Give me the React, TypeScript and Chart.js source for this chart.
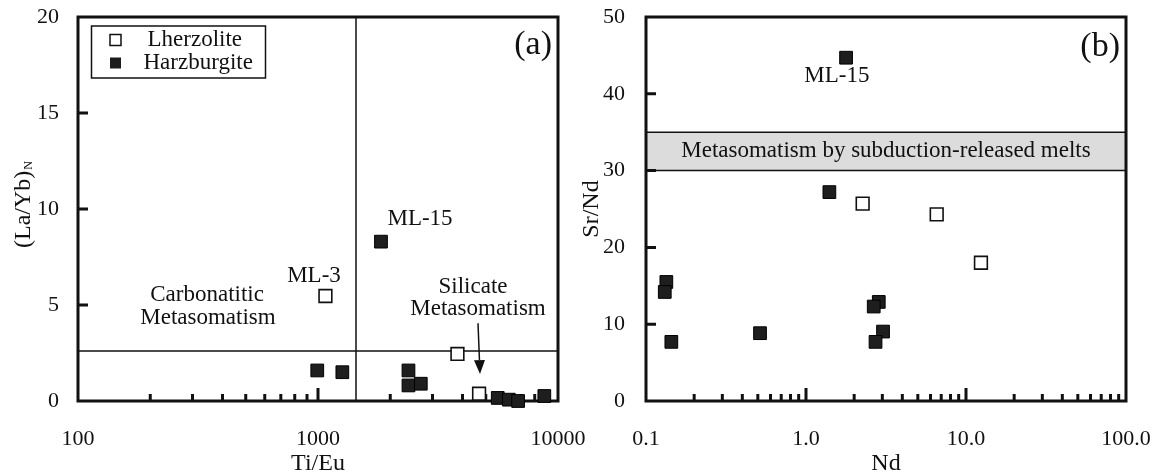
import React, { useEffect, useRef } from 'react';
import { Chart, registerables } from 'chart.js';

Chart.register(...registerables);

const FONT = "'Liberation Serif', 'DejaVu Serif', serif";
const INK = '#111111';

// ---------- Panel (a) data ----------
const lherzoliteTiEu = [1074, 3811, 4690];
const lherzoliteLaYb = [5.47, 2.45, 0.38];
const harzburgiteTiEu = [1830, 993, 1263, 2382, 2382, 2681, 5610, 6240, 6820, 8770];
const harzburgiteLaYb = [8.3, 1.59, 1.5, 1.59, 0.81, 0.9, 0.16, 0.07, 0.0, 0.26];
const ticksTiEu = [100, 1000, 10000];
const tickLabelsTiEu = ['100', '1000', '10000'];
const ticksLaYb = [0, 5, 10, 15, 20];
const dividerTiEu = 1440;
const dividerLaYb = 2.6;

// ---------- Panel (b) data ----------
const lherzoliteNd = [2.26, 6.56, 12.4];
const lherzoliteSrNd = [25.7, 24.3, 18.0];
const harzburgiteNd = [1.78, 1.4, 0.134, 0.131, 0.144, 0.516, 2.85, 2.65, 3.03, 2.72];
const harzburgiteSrNd = [44.7, 27.2, 15.5, 14.2, 7.7, 8.83, 12.9, 12.3, 9.04, 7.7];
const ticksNd = [0.1, 1, 10, 100];
const tickLabelsNd = ['0.1', '1.0', '10.0', '100.0'];
const ticksSrNd = [0, 10, 20, 30, 40, 50];
const bandSrNd = [30, 35];

// annotation positions (data coordinates)
const annotationsA = [
  { text: 'ML-15', x: 2661, y: 9.48 },
  { text: 'ML-3', x: 962, y: 6.5 },
  { text: 'Carbonatitic', x: 345, y: 5.5 },
  { text: 'Metasomatism', x: 348, y: 4.35 },
  { text: 'Silicate', x: 4425, y: 5.92 },
  { text: 'Metasomatism', x: 4642, y: 4.78 },
];
const arrowA = { x1: 4642, y1: 4.05, x2: 4732, y2: 1.4 };
const annotationsB = [{ text: 'ML-15', x: 1.56, y: 42.3 }];
const bandLabel = { text: 'Metasomatism by subduction-released melts', x: 3.16, y: 32.5 };

function pts(xs: number[], ys: number[]) {
  return xs.map((x, i) => ({ x, y: ys[i] }));
}

function text(ctx: any, s: string, x: number, y: number, size: number, align = 'center', baseline = 'middle') {
  ctx.save();
  ctx.fillStyle = INK;
  ctx.font = `${size}px ${FONT}`;
  ctx.textAlign = align;
  ctx.textBaseline = baseline;
  ctx.fillText(s, x, y);
  ctx.restore();
}

function drawFrameAndTicks(ctx: any, chart: any, yTickValues: number[]) {
  const a = chart.chartArea;
  const xs = chart.scales.x;
  const ys = chart.scales.y;
  ctx.save();
  ctx.strokeStyle = INK;
  ctx.lineWidth = 3;
  ctx.strokeRect(a.left, a.top, a.right - a.left, a.bottom - a.top);
  ctx.beginPath();
  const emin = Math.floor(Math.log10(xs.min) + 1e-9);
  const emax = Math.ceil(Math.log10(xs.max) - 1e-9);
  for (let e = emin; e < emax; e++) {
    for (let m = 1; m <= 9; m++) {
      const v = m * Math.pow(10, e);
      if (v <= xs.min * 1.0001 || v >= xs.max * 0.9999) continue;
      const px = xs.getPixelForValue(v);
      const len = m === 1 ? 13 : 7;
      ctx.moveTo(px, a.bottom);
      ctx.lineTo(px, a.bottom - len);
    }
  }
  yTickValues.forEach((v) => {
    if (v <= ys.min || v >= ys.max) return;
    const py = ys.getPixelForValue(v);
    ctx.moveTo(a.left, py);
    ctx.lineTo(a.left + 10, py);
  });
  ctx.lineWidth = 3;
  ctx.stroke();
  ctx.restore();
}

const decorA = {
  id: 'decorA',
  beforeDatasetsDraw(chart: any) {
    const ctx = chart.ctx;
    const a = chart.chartArea;
    const xs = chart.scales.x;
    const ys = chart.scales.y;
    ctx.save();
    ctx.strokeStyle = INK;
    ctx.lineWidth = 1.5;
    ctx.beginPath();
    const vx = xs.getPixelForValue(dividerTiEu);
    ctx.moveTo(vx, a.top);
    ctx.lineTo(vx, a.bottom);
    const hy = ys.getPixelForValue(dividerLaYb);
    ctx.moveTo(a.left, hy);
    ctx.lineTo(a.right, hy);
    ctx.stroke();
    ctx.restore();
    drawFrameAndTicks(ctx, chart, ticksLaYb);
  },
  afterDraw(chart: any) {
    const ctx = chart.ctx;
    const a = chart.chartArea;
    const xs = chart.scales.x;
    const ys = chart.scales.y;
    annotationsA.forEach((t) => text(ctx, t.text, xs.getPixelForValue(t.x), ys.getPixelForValue(t.y), 23));
    // arrow
    const x1 = xs.getPixelForValue(arrowA.x1), y1 = ys.getPixelForValue(arrowA.y1);
    const x2 = xs.getPixelForValue(arrowA.x2), y2 = ys.getPixelForValue(arrowA.y2);
    const ang = Math.atan2(y2 - y1, x2 - x1);
    const hl = 14, hw = 5.5;
    const bx = x2 - hl * Math.cos(ang), by = y2 - hl * Math.sin(ang);
    ctx.save();
    ctx.strokeStyle = INK;
    ctx.fillStyle = INK;
    ctx.lineWidth = 1.5;
    ctx.beginPath();
    ctx.moveTo(x1, y1);
    ctx.lineTo(bx, by);
    ctx.stroke();
    ctx.beginPath();
    ctx.moveTo(x2, y2);
    ctx.lineTo(bx + hw * Math.sin(ang), by - hw * Math.cos(ang));
    ctx.lineTo(bx - hw * Math.sin(ang), by + hw * Math.cos(ang));
    ctx.closePath();
    ctx.fill();
    ctx.restore();
    // legend
    ctx.save();
    ctx.strokeStyle = INK;
    ctx.lineWidth = 1.5;
    ctx.strokeRect(91.5, 26, 174, 52);
    ctx.fillStyle = '#ffffff';
    ctx.fillRect(110, 34.5, 11, 11);
    ctx.lineWidth = 1.5;
    ctx.strokeRect(110, 34.5, 11, 11);
    ctx.fillStyle = '#1c1c1c';
    ctx.fillRect(110, 57.5, 11, 11);
    ctx.restore();
    text(ctx, 'Lherzolite', 147.5, 40, 23, 'left');
    text(ctx, 'Harzburgite', 143.5, 63, 23, 'left');
    // panel letter
    text(ctx, '(a)', a.right - 6, a.top + 28, 34, 'right');
    // y title with subscript
    ctx.save();
    ctx.translate(30, 248);
    ctx.rotate(-Math.PI / 2);
    ctx.fillStyle = INK;
    ctx.font = `24px ${FONT}`;
    ctx.textAlign = 'left';
    ctx.textBaseline = 'alphabetic';
    ctx.fillText('(La/Yb)', 0, 0);
    const w = ctx.measureText('(La/Yb)').width;
    ctx.font = `12px ${FONT}`;
    ctx.fillText('N', w + 1, 2);
    ctx.restore();
  },
};

const decorB = {
  id: 'decorB',
  beforeDatasetsDraw(chart: any) {
    const ctx = chart.ctx;
    const a = chart.chartArea;
    const ys = chart.scales.y;
    const yTop = ys.getPixelForValue(bandSrNd[1]);
    const yBot = ys.getPixelForValue(bandSrNd[0]);
    ctx.save();
    ctx.fillStyle = '#dcdcdc';
    ctx.fillRect(a.left, yTop, a.right - a.left, yBot - yTop);
    ctx.strokeStyle = INK;
    ctx.lineWidth = 1.5;
    ctx.beginPath();
    ctx.moveTo(a.left, yTop);
    ctx.lineTo(a.right, yTop);
    ctx.moveTo(a.left, yBot);
    ctx.lineTo(a.right, yBot);
    ctx.stroke();
    ctx.restore();
    drawFrameAndTicks(ctx, chart, ticksSrNd);
  },
  afterDraw(chart: any) {
    const ctx = chart.ctx;
    const a = chart.chartArea;
    const xs = chart.scales.x;
    const ys = chart.scales.y;
    annotationsB.forEach((t) => text(ctx, t.text, xs.getPixelForValue(t.x), ys.getPixelForValue(t.y), 23));
    text(ctx, bandLabel.text, xs.getPixelForValue(bandLabel.x), ys.getPixelForValue(bandLabel.y), 23);
    text(ctx, '(b)', a.right - 6, a.top + 30, 34, 'right');
    ctx.save();
    ctx.translate(18, (a.top + a.bottom) / 2);
    ctx.rotate(-Math.PI / 2);
    ctx.fillStyle = INK;
    ctx.font = `24px ${FONT}`;
    ctx.textAlign = 'center';
    ctx.textBaseline = 'alphabetic';
    ctx.fillText('Sr/Nd', 0, 0);
    ctx.restore();
  },
};

function makeConfig(opts: any) {
  const {
    lx, ly, hx, hy, xMin, xMax, xTicks, xLabels, xTitle, yMax, yTicks, yAxisWidth, rightPad, yPad, plugin,
  } = opts;
  return {
    type: 'scatter',
    data: {
      datasets: [
        {
          label: 'Lherzolite',
          data: pts(lx, ly),
          pointStyle: 'rect',
          pointRadius: 9,
          pointHoverRadius: 9,
          backgroundColor: '#ffffff',
          borderColor: INK,
          borderWidth: 1.6,
          clip: false,
        },
        {
          label: 'Harzburgite',
          data: pts(hx, hy),
          pointStyle: 'rect',
          pointRadius: 9,
          pointHoverRadius: 9,
          backgroundColor: '#1e1e1e',
          borderColor: '#000000',
          borderWidth: 1,
          clip: false,
        },
      ],
    },
    options: {
      responsive: false,
      animation: false,
      events: [],
      layout: { padding: { left: 0, right: rightPad, top: 17, bottom: 0 } },
      plugins: { legend: { display: false }, tooltip: { enabled: false } },
      scales: {
        x: {
          type: 'logarithmic',
          position: 'bottom',
          min: xMin,
          max: xMax,
          grid: { display: false },
          border: { display: false },
          afterBuildTicks: (s: any) => {
            s.ticks = xTicks.map((v: number) => ({ value: v, major: true }));
          },
          ticks: {
            autoSkip: false,
            maxRotation: 0,
            minRotation: 0,
            padding: 19,
            color: INK,
            font: { family: FONT, size: 22, lineHeight: 1 },
            callback: (_v: any, i: number) => xLabels[i],
          },
          title: {
            display: true,
            text: xTitle,
            color: INK,
            font: { family: FONT, size: 24, lineHeight: 1 },
            padding: { top: 0, bottom: 0 },
          },
          afterFit: (s: any) => {
            s.height = 75;
            s.paddingLeft = 0;
            s.paddingRight = 0;
            s.paddingTop = 0;
            s.paddingBottom = 0;
          },
        },
        y: {
          type: 'linear',
          min: 0,
          max: yMax,
          grid: { display: false },
          border: { display: false },
          afterBuildTicks: (s: any) => {
            s.ticks = yTicks.map((v: number) => ({ value: v }));
          },
          ticks: {
            padding: yPad,
            color: INK,
            font: { family: FONT, size: 22, lineHeight: 1 },
            callback: (v: any) => String(v),
          },
          afterFit: (s: any) => {
            s.width = yAxisWidth;
            s.paddingLeft = 0;
            s.paddingRight = 0;
            s.paddingTop = 0;
            s.paddingBottom = 0;
          },
        },
      },
    },
    plugins: [plugin],
  };
}

export default function App() {
  const refA = useRef<HTMLCanvasElement | null>(null);
  const refB = useRef<HTMLCanvasElement | null>(null);

  useEffect(() => {
    document.body.style.margin = '0';
    const chartA = new Chart(refA.current as any, makeConfig({
      lx: lherzoliteTiEu, ly: lherzoliteLaYb, hx: harzburgiteTiEu, hy: harzburgiteLaYb,
      xMin: 100, xMax: 10000, xTicks: ticksTiEu, xLabels: tickLabelsTiEu, xTitle: 'Ti/Eu',
      yMax: 20, yTicks: ticksLaYb, yAxisWidth: 78, rightPad: 42, yPad: 11, plugin: decorA,
    }) as any);
    const chartB = new Chart(refB.current as any, makeConfig({
      lx: lherzoliteNd, ly: lherzoliteSrNd, hx: harzburgiteNd, hy: harzburgiteSrNd,
      xMin: 0.1, xMax: 100, xTicks: ticksNd, xLabels: tickLabelsNd, xTitle: 'Nd',
      yMax: 50, yTicks: ticksSrNd, yAxisWidth: 66, rightPad: 33, yPad: 13, plugin: decorB,
    }) as any);
    return () => {
      chartA.destroy();
      chartB.destroy();
    };
  }, []);

  return (
    <div style={{ position: 'absolute', left: 0, top: 0, width: 1159, height: 476, background: '#ffffff' }}>
      <canvas ref={refA} width={600} height={476} style={{ position: 'absolute', left: 0, top: 0 }} />
      <canvas ref={refB} width={579} height={476} style={{ position: 'absolute', left: 580, top: 0 }} />
    </div>
  );
}
